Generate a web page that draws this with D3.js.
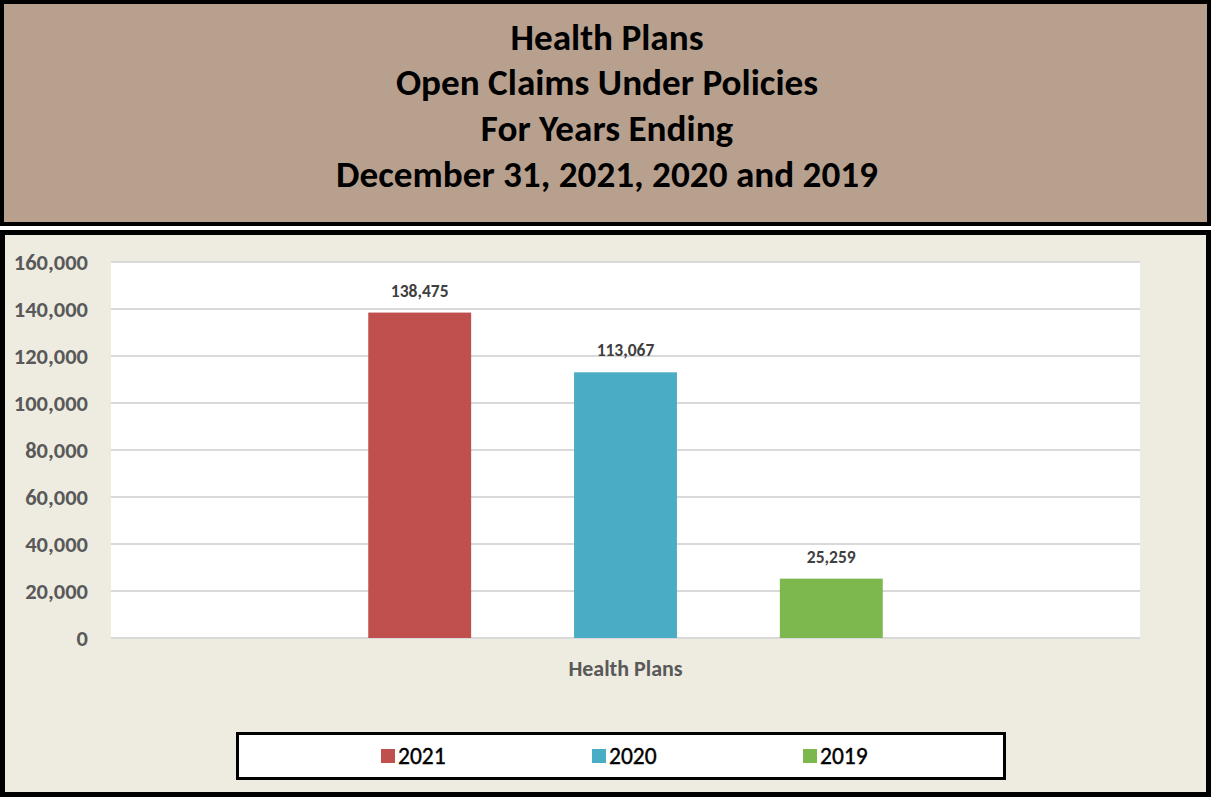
<!DOCTYPE html>
<html>
<head>
<meta charset="utf-8">
<script src="https://cdn.jsdelivr.net/npm/d3@7"></script>
<style>
  html, body { margin: 0; padding: 0; background: #ffffff; }
  svg { display: block; }
  text { font-family: Carlito, Lato, "Open Sans", sans-serif; }
</style>
</head>
<body>
<svg id="chart" width="1211" height="797"></svg>
<script>
// ---- data ----
const titleLines = ["Health Plans", "Open Claims Under Policies", "For Years Ending", "December 31, 2021, 2020 and 2019"];
const categories = ["Health Plans"];
const seriesNames = ["2021", "2020", "2019"];
const seriesValues = [138475, 113067, 25259];
const seriesColors = ["#C0504D", "#4BACC6", "#7CB84E"];
const yTicks = [0, 20000, 40000, 60000, 80000, 100000, 120000, 140000, 160000];

const svg = d3.select("#chart");
const W = 1211, H = 797;

// scale a text's font size so it reaches a measured target width
function fitSize(sel, base, target) {
  const w = sel.node().getComputedTextLength();
  return base * target / w;
}

// ---- title panel ----
svg.append("rect").attr("x", 2).attr("y", 2).attr("width", W - 4).attr("height", 222)
  .attr("fill", "#B8A08F").attr("stroke", "#000").attr("stroke-width", 4);
const titleBaselines = [50, 95, 141, 187];
const titleTexts = titleLines.map((t, i) => svg.append("text").attr("x", 607).attr("y", titleBaselines[i])
  .attr("text-anchor", "middle").attr("font-weight", "bold").attr("font-size", 30)
  .attr("fill", "#000").text(t));
const titleSize = fitSize(titleTexts[3], 30, 542);
titleTexts.forEach(t => t.attr("font-size", titleSize));

// ---- chart panel ----
svg.append("rect").attr("x", 2.5).attr("y", 232.5).attr("width", W - 5).attr("height", H - 235)
  .attr("fill", "#EEECE1").attr("stroke", "#000").attr("stroke-width", 5);

const plot = { left: 111, right: 1140, top: 262, bottom: 638 };
svg.append("rect").attr("x", plot.left).attr("y", plot.top)
  .attr("width", plot.right - plot.left).attr("height", plot.bottom - plot.top).attr("fill", "#fff");

const y = d3.scaleLinear().domain([0, 160000]).range([plot.bottom, plot.top]);
const x0 = d3.scaleBand().domain(categories).range([plot.left, plot.right]).paddingOuter(0.5).paddingInner(0);
const x1 = d3.scaleBand().domain(seriesNames).range([0, x0.bandwidth()]).paddingInner(0.5).paddingOuter(0);

// gridlines
svg.append("g").selectAll("line").data(yTicks).join("line")
  .attr("x1", plot.left).attr("x2", plot.right)
  .attr("y1", d => y(d)).attr("y2", d => y(d))
  .attr("stroke", "#D9D9D9").attr("stroke-width", 2);

// y axis
const yAxis = svg.append("g").attr("transform", `translate(${plot.left},0)`)
  .call(d3.axisLeft(y).tickValues(yTicks).tickFormat(d3.format(",")).tickSize(0).tickPadding(23));
yAxis.select(".domain").remove();
yAxis.selectAll("text").attr("font-size", 22.5).attr("font-weight", "bold").attr("fill", "#595959")
  .attr("dy", "0.35em").style("font-family", "Carlito, Lato, sans-serif");

// bars
const g = svg.append("g").selectAll("g").data(categories).join("g")
  .attr("transform", d => `translate(${x0(d)},0)`);
const barData = seriesNames.map((s, i) => ({ s, v: seriesValues[i], c: seriesColors[i] }));
g.selectAll("rect").data(barData).join("rect")
  .attr("x", d => x1(d.s)).attr("width", x1.bandwidth())
  .attr("y", d => y(d.v)).attr("height", d => y(0) - y(d.v))
  .attr("fill", d => d.c);
g.selectAll("text.lbl").data(barData).join("text").attr("class", "lbl")
  .attr("x", d => x1(d.s) + x1.bandwidth() / 2).attr("y", d => y(d.v) - 16)
  .attr("text-anchor", "middle").attr("font-size", 17.5).attr("font-weight", "bold")
  .attr("fill", "#404040").text(d => d3.format(",")(d.v));

// x axis label
const xAxis = svg.append("g").attr("transform", `translate(0,${plot.bottom})`)
  .call(d3.axisBottom(x0).tickSize(0).tickPadding(22));
xAxis.select(".domain").remove();
xAxis.selectAll("text").attr("font-size", 22).attr("font-weight", "bold").attr("fill", "#595959")
  .style("font-family", "Carlito, Lato, sans-serif");

// legend
svg.append("rect").attr("x", 237.5).attr("y", 733.5).attr("width", 767).attr("height", 45)
  .attr("fill", "#fff").attr("stroke", "#000").attr("stroke-width", 3);
const legX = d3.scalePoint().domain(seriesNames).range([381, 803]);
const lg = svg.append("g").selectAll("g").data(barData).join("g")
  .attr("transform", d => `translate(${legX(d.s)},749)`);
lg.append("rect").attr("width", 14).attr("height", 14).attr("fill", d => d.c);
lg.append("text").attr("x", 17).attr("y", 15).attr("font-size", 23.5)
  .attr("fill", "#000").attr("stroke", "#000").attr("stroke-width", 0.4).text(d => d.s);
</script>
</body>
</html>
